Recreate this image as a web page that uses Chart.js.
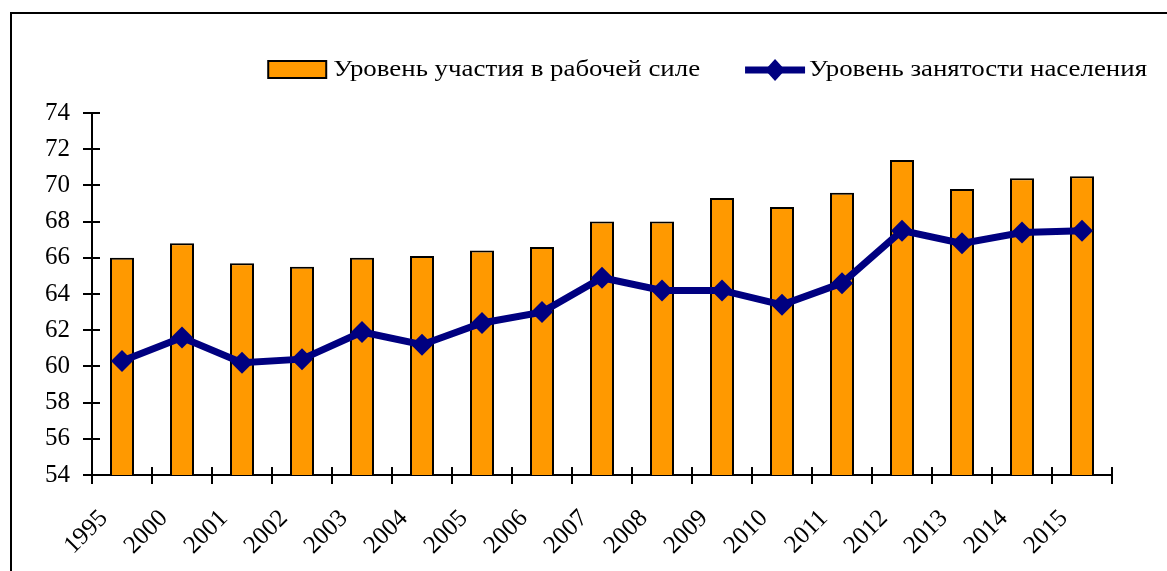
<!DOCTYPE html>
<html>
<head>
<meta charset="utf-8">
<script src="https://cdn.jsdelivr.net/npm/chart.js@4.4.1/dist/chart.umd.min.js"></script>
<style>
  html, body { margin: 0; padding: 0; background: #fff; overflow: hidden; }
  #wrap { position: relative; width: 1167px; height: 571px; }
  #frame { position: absolute; left: 10px; top: 12px; width: 1200px; height: 600px; border: 2px solid #000; }
  canvas { position: absolute; left: 0; top: 0; }
</style>
</head>
<body>
<div id="wrap">
  <div id="frame"></div>
  <canvas id="myChart" width="1167" height="571"></canvas>
</div>
<script>
const years = ['1995', '2000', '2001', '2002', '2003', '2004', '2005', '2006', '2007',
  '2008', '2009', '2010', '2011', '2012', '2013', '2014', '2015'];
const participation = [66.0, 66.8, 65.7, 65.5, 66.0, 66.1, 66.4, 66.6, 68.0,
  68.0, 69.3, 68.8, 69.6, 71.4, 69.8, 70.4, 70.5];
const employment = [60.3, 61.6, 60.2, 60.4, 61.9, 61.2, 62.4, 63.0, 64.9,
  64.2, 64.2, 63.4, 64.6, 67.5, 66.8, 67.4, 67.5];
const yMin = 54;
const yMax = 74;
const yStep = 2;

const labelBar = 'Уровень участия в рабочей силе';
const labelLine = 'Уровень занятости населения';

Chart.defaults.font.family = '"Liberation Serif", "Times New Roman", serif';
Chart.defaults.font.size = 25;
Chart.defaults.color = '#000';

// ticks crossing the axes (Chart.js only draws the outer half)
const innerTicks = {
  id: 'innerTicks',
  afterDraw(chart) {
    const ctx = chart.ctx;
    const x = chart.scales.x;
    const y = chart.scales.y;
    ctx.save();
    ctx.strokeStyle = '#000';
    ctx.lineWidth = 2;
    ctx.beginPath();
    y.ticks.forEach(function(t, i) {
      const py = Math.round(y.getPixelForTick(i));
      ctx.moveTo(x.left, py);
      ctx.lineTo(x.left + 8, py);
    });
    const step = (x.right - x.left) / years.length;
    for (let i = 0; i <= years.length; i++) {
      const px = Math.round(x.left + i * step);
      ctx.moveTo(px, y.bottom);
      ctx.lineTo(px, y.bottom - 8);
    }
    ctx.stroke();
    ctx.restore();
  }
};

// one-row legend, right aligned, text a bit wide like the original
function wideText(ctx, text, x, y, sx) {
  ctx.save();
  ctx.translate(x, y);
  ctx.scale(sx, 1);
  ctx.fillText(text, 0, 0);
  ctx.restore();
}

const legendRow = {
  id: 'legendRow',
  afterDraw(chart) {
    const ctx = chart.ctx;
    const cy = 70;
    const sx = 1.12;
    ctx.save();
    ctx.font = '24px "Liberation Serif"';
    ctx.textBaseline = 'middle';
    ctx.fillStyle = '#000';

    let x = chart.width - 20;
    x -= ctx.measureText(labelLine).width * sx;
    wideText(ctx, labelLine, x, cy, sx);
    x -= 4 + 60;
    ctx.strokeStyle = '#000080';
    ctx.lineWidth = 7;
    ctx.beginPath();
    ctx.moveTo(x, cy);
    ctx.lineTo(x + 60, cy);
    ctx.stroke();
    ctx.fillStyle = '#000080';
    ctx.beginPath();
    ctx.moveTo(x + 30, cy - 11);
    ctx.lineTo(x + 40, cy);
    ctx.lineTo(x + 30, cy + 11);
    ctx.lineTo(x + 20, cy);
    ctx.closePath();
    ctx.fill();

    x -= 45;
    ctx.fillStyle = '#000';
    x -= ctx.measureText(labelBar).width * sx;
    wideText(ctx, labelBar, x, cy, sx);
    x -= 7 + 58;
    ctx.fillStyle = '#FF9900';
    ctx.fillRect(x, cy - 9, 58, 17);
    ctx.strokeStyle = '#000';
    ctx.lineWidth = 2;
    ctx.strokeRect(x, cy - 9, 58, 17);
    ctx.restore();
  }
};

function createChart() {
  const ctx = document.getElementById('myChart').getContext('2d');

  new Chart(ctx, {
    type: 'bar',
    data: {
      labels: years,
      datasets: [{
        type: 'line',
        label: labelLine,
        data: employment,
        borderColor: '#000080',
        backgroundColor: '#000080',
        borderWidth: 7,
        pointStyle: 'rectRot',
        pointRadius: 11,
        pointBorderWidth: 0,
        tension: 0,
        order: 0,
      },
      {
        label: labelBar,
        data: participation,
        backgroundColor: '#FF9900',
        borderColor: '#000',
        borderWidth: 2,
        categoryPercentage: 1,
        barPercentage: 0.4,
        order: 1,
      }]
    },
    options: {
      responsive: false,
      animation: false,
      layout: { padding: { left: 20, right: 55, top: 113, bottom: 0 } },
      plugins: {
        legend: { display: false },
        tooltip: { enabled: false },
      },
      scales: {
        x: {
          grid: { drawOnChartArea: false, tickLength: 9, color: '#000', lineWidth: 2 },
          border: { color: '#000', width: 2 },
          ticks: { autoSkip: false, maxRotation: 45, minRotation: 45, padding: 20, labelOffset: -18 },
          afterFit(scale) {
            scale.height = 96;
            scale.paddingLeft = 0;
            scale.paddingRight = 0;
          },
        },
        y: {
          min: yMin,
          max: yMax,
          grid: { drawOnChartArea: false, tickLength: 9, color: '#000', lineWidth: 2 },
          border: { color: '#000', width: 2 },
          ticks: { stepSize: yStep, padding: 13 },
          afterFit(scale) {
            scale.width = 72;
            scale.paddingTop = 0;
            scale.paddingBottom = 0;
          },
        }
      }
    },
    plugins: [innerTicks, legendRow]
  });
}

createChart();
</script>
</body>
</html>
